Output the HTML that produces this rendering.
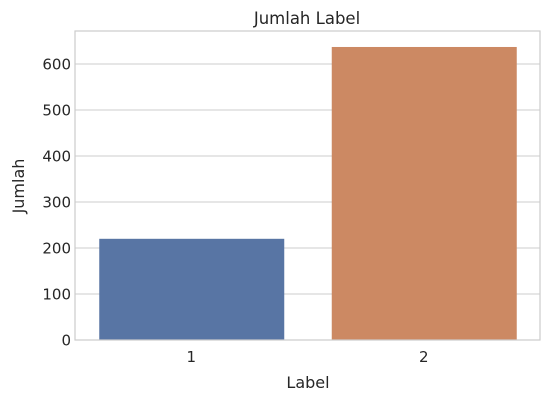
<!DOCTYPE html>
<html><head><meta charset="utf-8"><style>
body{margin:0;background:#fff;font-family:"DejaVu Sans","Liberation Sans",sans-serif;}
svg text{font-family:"DejaVu Sans","Liberation Sans",sans-serif;fill:#262626;}
</style></head><body>
<svg id="chart" width="550" height="402" xmlns="http://www.w3.org/2000/svg">
<rect width="550" height="402" fill="#fff"/>
<g id="grid"></g><g id="bars"></g><g id="axes"></g>
<text x="307" y="24" text-anchor="middle" font-size="16.5">Jumlah Label</text>
<text x="308" y="388" text-anchor="middle" font-size="16">Label</text>
<text transform="translate(24,186) rotate(-90)" text-anchor="middle" font-size="16">Jumlah</text>
</svg>
<script>
const categories = ["1", "2"];
const values = [220, 637];
const yTicks = [0, 100, 200, 300, 400, 500, 600];
const colors = ["#5875a4", "#cc8963"];
const L=75,R=540,T=31,B=340;
const y=v=>B-v*(B-64)/600;
const bw=(R-L)/categories.length;
const x=i=>L+bw*(i+0.5);
const ns="http://www.w3.org/2000/svg";
function mk(tag,attrs,parent){const e=document.createElementNS(ns,tag);for(const k in attrs)e.setAttribute(k,attrs[k]);document.getElementById(parent).appendChild(e);return e;}
yTicks.forEach(t=>{
  const l=mk("line",{x1:L,x2:R,y1:y(t),y2:y(t),stroke:"#cccccc","stroke-width":1},"grid");
  
  
  const tx=mk("text",{x:L-4,y:y(t)+5.5,"text-anchor":"end","font-size":"15"},"axes");
  tx.textContent=t;
  
  
});
categories.forEach((c,i)=>{
  const w=bw*0.8;
  const r=mk("rect",{x:x(i)-w/2+1,y:y(values[i]),width:w-1,height:B-y(values[i]),fill:colors[i]},"bars");
  
  
  const tx=mk("text",{x:x(i),y:B+22,"text-anchor":"middle","font-size":"15"},"axes");
  tx.textContent=c;
  
  
});
const f=mk("rect",{x:L,y:T,width:R-L,height:B-T,fill:"none",stroke:"#cccccc","stroke-width":1.2},"axes");


</script>
</body></html>
